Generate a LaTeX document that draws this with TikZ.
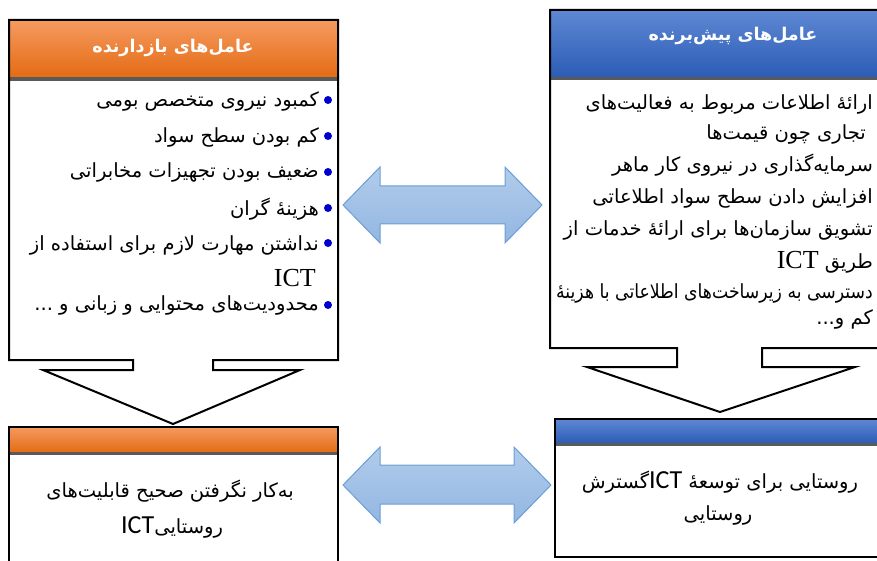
\documentclass[tikz,border=0pt]{standalone}
\usepackage{graphicx}
\usepackage{fontspec}
\setmainfont{DejaVu Sans}
\newfontfamily\fa[Script=Arabic]{DejaVu Sans}
\newfontfamily\lser{Liberation Serif}
\newfontfamily\lsans{Carlito}
\TeXXeTstate=1
\newcommand\rtltext[1]{\beginR #1\endR}
\definecolor{orTop}{HTML}{F59A60}
\definecolor{orBot}{HTML}{E46C14}
\definecolor{blTop}{HTML}{5E88D3}
\definecolor{blBot}{HTML}{2C5CB6}
\definecolor{arTop}{HTML}{B1CCEB}
\definecolor{arBot}{HTML}{93B6E1}
\definecolor{arLine}{HTML}{6A9ED6}
\definecolor{bandgray}{HTML}{5A5A5A}
\definecolor{bulletblue}{HTML}{0000CC}
\begin{document}
\begin{tikzpicture}[x=1pt,y=-1pt,
  outline/.style={draw=black, line width=2pt, line join=miter},
  whitefill/.style={fill=white},
  orangehead/.style={top color=orTop, bottom color=orBot, draw=black, line width=0.8pt},
  bluehead/.style={top color=blTop, bottom color=blBot, draw=black, line width=0.8pt},
  band/.style={fill=bandgray},
  dblarrow/.style={top color=arTop, bottom color=arBot, draw=arLine, line width=1pt, line join=miter},
  bodytxt/.style={font=\fa\fontsize{19.5}{22}\selectfont, inner sep=0pt, anchor=base east},
  ctrtxt/.style={font=\fa\fontsize{19.5}{22}\selectfont, inner sep=0pt, anchor=base},
  headtxt/.style={font=\fa\bfseries\fontsize{17.5}{20}\selectfont, text=white, inner sep=0pt, anchor=base},
  ictser/.style={font=\lser\fontsize{26}{28}\selectfont, inner sep=0pt, anchor=base east},
  bulletdot/.style={circle, fill=bulletblue, inner sep=0pt, minimum size=8pt}
]
\useasboundingbox (0,0) rectangle (877,561);
\clip (0,0) rectangle (877,561);

% ---------- top left box (hindering factors) ----------
\path[whitefill] (213,360) -- (338,360) -- (338,20) -- (9,20) -- (9,360) -- (133,360) -- (133,370) -- (43,370) -- (173,424) -- (300,370) -- (213,370) -- cycle;
\draw[orangehead] (9,20) rectangle (338,77);
\fill[band] (10,77) rectangle (337,81);
\draw[outline] (213,360) -- (338,360) -- (338,20) -- (9,20) -- (9,360) -- (133,360) -- (133,370) -- (43,370) -- (173,424) -- (300,370) -- (213,370) -- cycle;

% ---------- top right box (driving factors) ----------
\path[whitefill] (762,348) -- (890,348) -- (890,10) -- (550,10) -- (550,348) -- (677,348) -- (677,367) -- (587,367) -- (720,412) -- (855,367) -- (762,367) -- cycle;
\draw[bluehead] (550,10) rectangle (890,77);
\fill[band] (551,77) rectangle (889,80);
\draw[outline] (762,348) -- (890,348) -- (890,10) -- (550,10) -- (550,348) -- (677,348) -- (677,367) -- (587,367) -- (720,412) -- (855,367) -- (762,367) -- cycle;

% ---------- bottom left box ----------
\path[whitefill] (9,427) rectangle (338,580);
\draw[orangehead] (9,427) rectangle (338,452);
\fill[band] (10,452) rectangle (337,455);
\draw[outline] (9,427) rectangle (338,580);

% ---------- bottom right box ----------
\path[whitefill] (555,419) rectangle (890,557);
\draw[bluehead] (555,419) rectangle (890,443);
\fill[band] (556,443) rectangle (889,446);
\draw[outline] (555,419) rectangle (890,557);

% ---------- double arrows ----------
\draw[dblarrow] (343,205) -- (380,167) -- (380,186) -- (505,186) -- (505,167) -- (542,205) -- (505,243) -- (505,224) -- (380,224) -- (380,243) -- cycle;
\draw[dblarrow] (343,485) -- (380,447) -- (380,465) -- (514,465) -- (514,447) -- (551,485) -- (514,523) -- (514,504) -- (380,504) -- (380,523) -- cycle;

% ---------- headers ----------
\node[headtxt] (lhead) at (173,53) {\rtltext{عامل‌های بازدارنده}};
\node[headtxt] (rhead) at (733,41) {\rtltext{عامل‌های پیش‌برنده}};

% ---------- left list ----------
\node[bulletdot] (b1) at (328,100) {};
\node[bulletdot] (b2) at (328,136) {};
\node[bulletdot] (b3) at (328,172) {};
\node[bulletdot] (b4) at (328,208) {};
\node[bulletdot] (b5) at (328,243) {};
\node[bulletdot] (b6) at (328,305) {};
\node[bodytxt] (l1) at (319,107) {\rtltext{کمبود نیروی متخصص بومی}};
\node[bodytxt] (l2) at (319,143) {\rtltext{کم بودن سطح سواد}};
\node[bodytxt] (l3) at (319,178) {\rtltext{ضعیف بودن تجهیزات مخابراتی}};
\node[bodytxt] (l4) at (319,215) {\rtltext{هزینهٔ گران}};
\node[bodytxt] (l5) at (319,251) {\rtltext{نداشتن مهارت لازم برای استفاده از}};
\node[ictser] (l6) at (316,286) {ICT};
\node[bodytxt] (l7) at (319,310) {\rtltext{محدودیت‌های محتوایی و زبانی و ...}};

% ---------- right list ----------
\node[bodytxt] (r1) at (873,110) {\rtltext{ارائهٔ اطلاعات مربوط به فعالیت‌های}};
\node[bodytxt] (r2) at (866,140) {\rtltext{تجاری چون قیمت‌ها}};
\node[bodytxt] (r3) at (873,172) {\rtltext{سرمایه‌گذاری در نیروی کار ماهر}};
\node[bodytxt] (r4) at (873,204) {\rtltext{افزایش دادن سطح سواد اطلاعاتی}};
\node[bodytxt] (r5) at (873,236) {\rtltext{تشویق سازمان‌ها برای ارائهٔ خدمات از}};
\node[bodytxt] (r6) at (873,268) {\rtltext{طریق \beginL{\lser\fontsize{26}{28}\selectfont ICT}\endL}};
\node[bodytxt] (r7) at (873,298) {\scalebox{0.885}[1]{\rtltext{دسترسی به زیرساخت‌های اطلاعاتی با هزینهٔ}}};
\node[bodytxt] (r8) at (873,324) {\rtltext{کم و...}};

% ---------- bottom texts ----------
\node[ctrtxt] (bl1) at (170,497) {\rtltext{به‌کار نگرفتن صحیح قابلیت‌های}};
\node[ctrtxt] (bl2) at (172,533) {\rtltext{روستایی\beginL{\lsans\fontsize{26}{28}\selectfont ICT}\endL}};
\node[ctrtxt] (br1) at (720,488) {\rtltext{روستایی برای توسعهٔ \beginL{\lsans\fontsize{26}{28}\selectfont ICT}\endL گسترش}};
\node[ctrtxt] (br2) at (718,520) {\rtltext{روستایی}};
\end{tikzpicture}
\end{document}
